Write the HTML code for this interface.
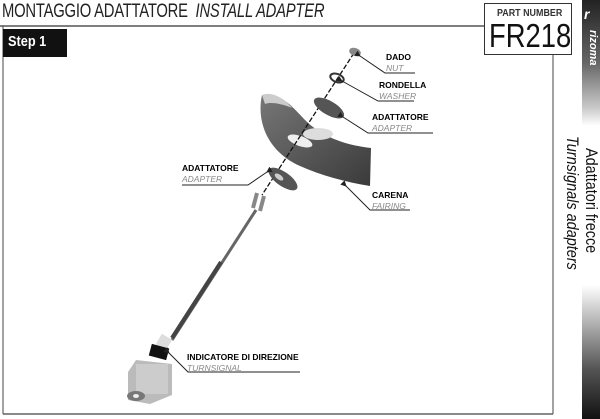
<!DOCTYPE html>
<html><head><meta charset="utf-8"><style>
body{margin:0;width:600px;height:419px;overflow:hidden;background:#fff;font-family:"Liberation Sans",sans-serif;position:relative}
.t{position:absolute;white-space:nowrap}
</style></head><body>
<div class="t" style="left:2px;top:1px;font-size:19px;color:#222;transform:scaleX(0.78);transform-origin:left top;letter-spacing:-0.3px">MONTAGGIO ADATTATORE &nbsp;<i>INSTALL ADAPTER</i></div>
<svg width="600" height="419" style="position:absolute;left:0;top:0">
<defs>
<linearGradient id="st" x1="0" y1="0" x2="0" y2="1">
<stop offset="0" stop-color="#222"/><stop offset="0.15" stop-color="#666"/><stop offset="0.26" stop-color="#ccc"/><stop offset="0.3" stop-color="#fff"/>
<stop offset="0.68" stop-color="#fff"/><stop offset="0.74" stop-color="#ccc"/><stop offset="0.88" stop-color="#555"/><stop offset="1" stop-color="#111"/></linearGradient>
<linearGradient id="fg" x1="0" y1="0" x2="1" y2="1"><stop offset="0" stop-color="#777"/><stop offset="1" stop-color="#3a3a3a"/></linearGradient>
<marker id="a" markerWidth="6" markerHeight="6" refX="1" refY="3" orient="auto-start-reverse"><path d="M6,0 L0,3 L6,6 Z" fill="#222"/></marker>
</defs>
<rect x="582" y="0" width="18" height="419" fill="url(#st)"/>
<line x1="0" y1="26" x2="485" y2="26" stroke="#333" stroke-width="1.2"/>
<line x1="3" y1="26" x2="3" y2="414" stroke="#444"/>
<line x1="3" y1="414" x2="553" y2="414" stroke="#444" stroke-width="1.2"/>
<line x1="553" y1="54" x2="553" y2="414" stroke="#444"/>
<rect x="484.5" y="3.5" width="87" height="51" fill="#fff" stroke="#333"/>
<rect x="3" y="29" width="64" height="28" fill="#111"/>
<!-- fairing -->
<path d="M262,95 C256,122 268,152 300,166 C320,175 345,182 370,186 L371,148 C345,145 322,137 305,120 C292,106 280,92 262,95 Z" fill="url(#fg)"/>
<path d="M262,95 C272,91 284,98 292,108 C280,103 270,102 265,104 Z" fill="#ccc"/>
<ellipse cx="318" cy="134" rx="15" ry="6" fill="#ddd"/>
<ellipse cx="300" cy="141" rx="13" ry="5" transform="rotate(20 300 141)" fill="#eee"/>
<!-- dashed axis -->
<line x1="354" y1="53" x2="262" y2="195" stroke="#111" stroke-width="1.3" stroke-dasharray="5,2"/>
<!-- adapters -->
<ellipse cx="329" cy="108" rx="17" ry="7" transform="rotate(30 329 108)" fill="#555"/>
<ellipse cx="283" cy="179" rx="17" ry="7" transform="rotate(35 283 179)" fill="#555"/>
<ellipse cx="279" cy="177" rx="5" ry="2.5" transform="rotate(35 279 177)" fill="#ccc"/>
<!-- washer, nut -->
<ellipse cx="337" cy="78" rx="7" ry="4" transform="rotate(20 337 78)" fill="none" stroke="#333" stroke-width="2"/>
<ellipse cx="355" cy="52" rx="6" ry="4" transform="rotate(20 355 52)" fill="#888"/>
<!-- rod -->
<path d="M257,193 L253,208 M264,196 L260,211" stroke="#888" stroke-width="4"/>
<line x1="256" y1="210" x2="172" y2="340" stroke="#666" stroke-width="3"/>
<line x1="221" y1="262" x2="172" y2="338" stroke="#444" stroke-width="4"/>
<rect x="158" y="336" width="12" height="12" fill="#ddd" transform="rotate(30 164 342)"/>
<rect x="150" y="346" width="18" height="12" fill="#111" transform="rotate(15 159 352)"/>
<path d="M128,372 L136,360 L172,364 L172,395 L150,404 L128,400 Z" fill="#bbb"/>
<rect x="136" y="364" width="32" height="30" fill="#ccc"/>
<ellipse cx="136" cy="396" rx="9" ry="5" fill="#777"/>
<ellipse cx="136" cy="396" rx="3" ry="2" fill="#eee"/>
<!-- leaders -->
<g stroke="#222" stroke-width="1" fill="none">
<path d="M415,73 L385,73 L360,56" marker-end="url(#a)"/>
<path d="M414,101 L378,101 L342,81" marker-end="url(#a)"/>
<path d="M433,133 L368,133 L343,117" marker-end="url(#a)"/>
<path d="M410,210 L370,210 L346,186" marker-end="url(#a)"/>
<path d="M182,185 L248,185 L267,172" marker-end="url(#a)"/>
<path d="M300,372 L188,372 L169,353" marker-end="url(#a)"/>
</g>
</svg>
<div class="t" style="left:497px;top:7px;font-size:10.5px;font-weight:bold;color:#333;transform:scaleX(0.85);transform-origin:left top">PART NUMBER</div>
<div class="t" style="left:489px;top:19px;font-size:33px;color:#111;transform:scaleX(0.83);transform-origin:left top;line-height:34px">FR218</div>
<div class="t" style="left:8px;top:33px;font-size:15px;font-weight:bold;color:#fff;transform:scaleX(0.85);transform-origin:left top">Step 1</div>
<div class="t" style="left:584px;top:6px;font-size:14px;font-weight:bold;font-style:italic;color:#fff">r</div>
<div class="t" style="left:599px;top:30px;font-size:11px;font-weight:bold;font-style:italic;color:#fff;transform:rotate(90deg);transform-origin:left top">rizoma</div>
<div class="t" style="left:601px;top:148px;font-size:17px;color:#111;transform:rotate(90deg) scaleX(0.85);transform-origin:left top">Adattatori frecce</div>
<div class="t" style="left:582px;top:136px;font-size:17px;font-style:italic;color:#111;transform:rotate(90deg) scaleX(0.85);transform-origin:left top">Turnsignals adapters</div>
<div style="font-size:8.5px;line-height:10px">
<div class="t" style="left:386px;top:52px;font-weight:bold">DADO</div>
<div class="t" style="left:386px;top:63px;font-style:italic;color:#888">NUT</div>
<div class="t" style="left:379px;top:80px;font-weight:bold">RONDELLA</div>
<div class="t" style="left:379px;top:91px;font-style:italic;color:#888">WASHER</div>
<div class="t" style="left:372px;top:112px;font-weight:bold">ADATTATORE</div>
<div class="t" style="left:372px;top:123px;font-style:italic;color:#888">ADAPTER</div>
<div class="t" style="left:372px;top:190px;font-weight:bold">CARENA</div>
<div class="t" style="left:372px;top:201px;font-style:italic;color:#888">FAIRING</div>
<div class="t" style="left:182px;top:163px;font-weight:bold">ADATTATORE</div>
<div class="t" style="left:182px;top:174px;font-style:italic;color:#888">ADAPTER</div>
<div class="t" style="left:187px;top:352px;font-weight:bold">INDICATORE DI DIREZIONE</div>
<div class="t" style="left:187px;top:363px;font-style:italic;color:#888">TURNSIGNAL</div>
</div>
</body></html>
